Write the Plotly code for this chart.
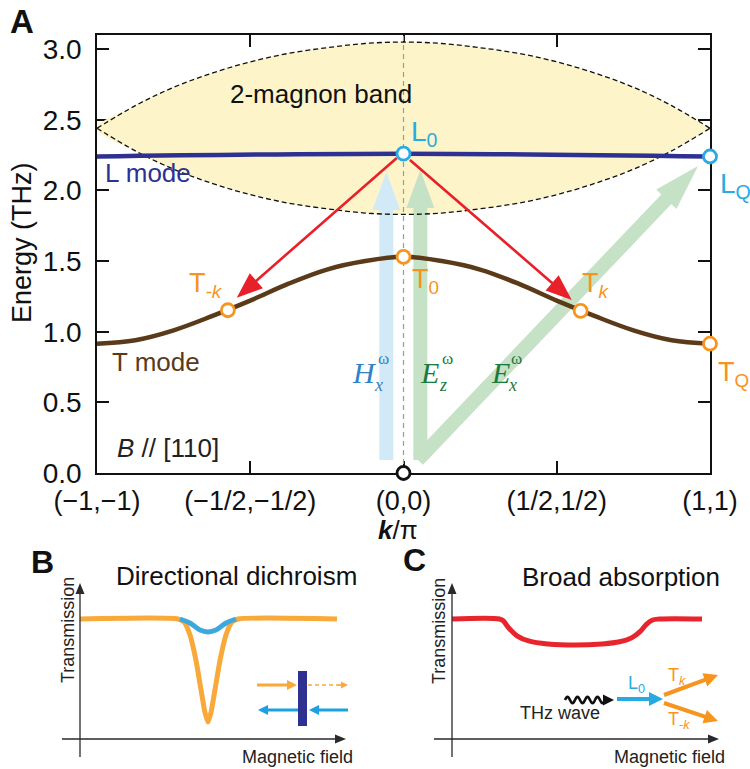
import math
import numpy as np
import plotly.graph_objects as go

W, H = 750, 769
FONT = "Liberation Sans, Arial, sans-serif"
SERIF = "Liberation Serif, Times New Roman, serif"

# ---------------- Panel A data ----------------
k_grid = [-1, -0.875, -0.75, -0.625, -0.5, -0.375, -0.25, -0.125, 0,
          0.125, 0.25, 0.375, 0.5, 0.625, 0.75, 0.875, 1]
band_upper = [2.44, 2.60, 2.73, 2.83, 2.91, 2.97, 3.01, 3.04, 3.05,
              3.04, 3.01, 2.97, 2.91, 2.83, 2.73, 2.60, 2.44]
band_lower = [2.44, 2.28, 2.15, 2.05, 1.97, 1.91, 1.87, 1.84, 1.83,
              1.84, 1.87, 1.91, 1.97, 2.05, 2.15, 2.28, 2.44]
t_mode_E = [0.915, 0.94, 1.01, 1.11, 1.22, 1.34, 1.44, 1.50, 1.53,
            1.50, 1.44, 1.34, 1.22, 1.11, 1.01, 0.94, 0.915]
l_mode_k = [-1.0, 0.0, 1.0]
l_mode_E = [2.24, 2.26, 2.24]

l_pts_k = [0.0, 1.0]
l_pts_E = [2.26, 2.24]
t_pts_k = [-0.573, 0.0, 0.578, 1.0]
t_pts_E = [1.152, 1.53, 1.147, 0.915]
origin_k = [0.0]
origin_E = [0.0]

red_tail_k = [-0.022, 0.021]
red_tail_E = [2.23, 2.215]
red_tip_k = [-0.544, 0.549]
red_tip_E = [1.24, 1.225]

thz_tail_k = [-0.056, 0.055, 0.047]
thz_tail_E = [0.092, 0.092, 0.092]
thz_tip_k = [-0.056, 0.055, 0.961]
thz_tip_E = [2.13, 2.145, 2.173]
thz_colors = ["#D2EAF8", "#C6E2C6", "#C6E2C6"]

xtick_vals = [-1, -0.5, 0, 0.5, 1]
xtick_text = ["(\u22121,\u22121)", "(\u22121/2,\u22121/2)", "(0,0)", "(1/2,1/2)", "(1,1)"]
ytick_vals = [0, 0.5, 1.0, 1.5, 2.0, 2.5, 3.0]
ytick_text = ["0.0", "0.5", "1.0", "1.5", "2.0", "2.5", "3.0"]

# ---------------- Panel B data ----------------
B_field_orange = [0, 0.381, 0.405, 0.428, 0.451, 0.471, 0.486, 0.498,
                  0.51, 0.525, 0.545, 0.568, 0.591, 0.615, 1.0]
B_trans_orange = [1, 1, 0.975, 0.868, 0.661, 0.413, 0.231, 0.149,
                  0.231, 0.413, 0.661, 0.868, 0.975, 1, 1]
B_field_blue = [0.389, 0.428, 0.467, 0.498, 0.529, 0.568, 0.607]
B_trans_blue = [1, 0.967, 0.909, 0.893, 0.909, 0.967, 1]

# ---------------- Panel C data ----------------
C_field = [0, 0.19, 0.205, 0.225, 0.26, 0.31, 0.384, 0.492, 0.6, 0.67,
           0.72, 0.752, 0.775, 0.8, 0.83, 1.0]
C_trans = [1, 1, 0.985, 0.93, 0.86, 0.815, 0.792, 0.783, 0.792, 0.81,
           0.845, 0.895, 0.95, 0.99, 1, 1]

# ---------------- geometry ----------------
A_L, A_R, A_T, A_B = 97, 710, 35, 473
xA = [-1, 1]
yA = [0, 3.1]
sxA = (A_R - A_L) / (xA[1] - xA[0])
syA = (A_B - A_T) / (yA[1] - yA[0])


def arrow_poly(x0, y0, x1, y1, sx, sy, shaft, hw, hl):
    X0, Y0, X1, Y1 = x0 * sx, y0 * sy, x1 * sx, y1 * sy
    dx, dy = X1 - X0, Y1 - Y0
    L = math.hypot(dx, dy)
    ux, uy = dx / L, dy / L
    nx, ny = -uy, ux
    bx, by = X1 - ux * hl, Y1 - uy * hl
    pts = [(X0 + nx * shaft / 2, Y0 + ny * shaft / 2),
           (bx + nx * shaft / 2, by + ny * shaft / 2),
           (bx + nx * hw / 2, by + ny * hw / 2),
           (X1, Y1),
           (bx - nx * hw / 2, by - ny * hw / 2),
           (bx - nx * shaft / 2, by - ny * shaft / 2),
           (X0 - nx * shaft / 2, Y0 - ny * shaft / 2)]
    pts.append(pts[0])
    return [p[0] / sx for p in pts], [p[1] / sy for p in pts]


def pp(px, py):
    return px / W, 1 - py / H


def paper_arrow_path(p0, p1, shaft, hw, hl):
    x0, y0 = pp(*p0)
    x1, y1 = pp(*p1)
    xs, ys = arrow_poly(x0, y0, x1, y1, W, H, shaft, hw, hl)
    return "M " + " L ".join(f"{a:.5f},{b:.5f}" for a, b in zip(xs, ys)) + " Z"


fig = go.Figure()

# band fill
fig.add_trace(go.Scatter(x=k_grid + k_grid[::-1], y=band_upper + band_lower[::-1],
                         mode="lines", fill="toself", fillcolor="#FDF5C9",
                         line=dict(width=0, shape="spline"), hoverinfo="skip"))
# thick THz arrows
for i in range(3):
    xs, ys = arrow_poly(thz_tail_k[i], thz_tail_E[i], thz_tip_k[i], thz_tip_E[i],
                        sxA, syA, 14, 28, 38 if i < 2 else 46)
    fig.add_trace(go.Scatter(x=xs, y=ys, mode="lines", fill="toself",
                             fillcolor=thz_colors[i], line=dict(width=0),
                             hoverinfo="skip"))
# band dashed borders
for arr in (band_upper, band_lower):
    fig.add_trace(go.Scatter(x=k_grid, y=arr, mode="lines",
                             line=dict(color="#111", width=1.3, dash="5px,3px", shape="spline"),
                             hoverinfo="skip"))
# vertical dashed line at k=0
fig.add_trace(go.Scatter(x=[0, 0], y=yA, mode="lines",
                         line=dict(color="#9a9a9a", width=1.2, dash="5px,4px"),
                         hoverinfo="skip"))
# L mode
fig.add_trace(go.Scatter(x=l_mode_k, y=l_mode_E, mode="lines",
                         line=dict(color="#2E3192", width=4.5, shape="spline"),
                         hoverinfo="skip"))
# T mode
fig.add_trace(go.Scatter(x=k_grid, y=t_mode_E, mode="lines",
                         line=dict(color="#5B3A1A", width=4.5, shape="spline"),
                         hoverinfo="skip"))
# red arrows
for i in range(2):
    xs, ys = arrow_poly(red_tail_k[i], red_tail_E[i], red_tip_k[i], red_tip_E[i],
                        sxA, syA, 2.6, 20, 26)
    fig.add_trace(go.Scatter(x=xs, y=ys, mode="lines", fill="toself",
                             fillcolor="#E8202A", line=dict(width=0, color="#E8202A"),
                             hoverinfo="skip"))
# circles
fig.add_trace(go.Scatter(x=l_pts_k, y=l_pts_E, mode="markers", cliponaxis=False,
                         marker=dict(symbol="circle", size=13, color="white",
                                     line=dict(color="#29ABE2", width=2.8)),
                         hoverinfo="skip"))
fig.add_trace(go.Scatter(x=t_pts_k, y=t_pts_E, mode="markers", cliponaxis=False,
                         marker=dict(symbol="circle", size=13, color="white",
                                     line=dict(color="#F7941D", width=2.8)),
                         hoverinfo="skip"))
fig.add_trace(go.Scatter(x=origin_k, y=origin_E, mode="markers", cliponaxis=False,
                         marker=dict(symbol="circle", size=13, color="white",
                                     line=dict(color="#111", width=2.8)),
                         hoverinfo="skip"))

# Panel B curves
fig.add_trace(go.Scatter(x=B_field_orange, y=B_trans_orange, xaxis="x2", yaxis="y2",
                         mode="lines", line=dict(color="#F9A83A", width=5, shape="spline", smoothing=0.6),
                         hoverinfo="skip"))
fig.add_trace(go.Scatter(x=B_field_blue, y=B_trans_blue, xaxis="x2", yaxis="y2",
                         mode="lines", line=dict(color="#3BA9DE", width=5, shape="spline"),
                         hoverinfo="skip"))
# Panel C curve
fig.add_trace(go.Scatter(x=C_field, y=C_trans, xaxis="x3", yaxis="y3",
                         mode="lines", line=dict(color="#E8252C", width=5, shape="spline", smoothing=1.0),
                         hoverinfo="skip"))

# ---------------- annotations ----------------
ann = []


def txt(x, y, text, size, color="#111", xanchor="center", yanchor="middle",
        family=FONT, ref="data", angle=0):
    if ref == "px":
        x, y = pp(x, y)
        xr, yr = "paper", "paper"
    else:
        xr, yr = "x", "y"
    ann.append(dict(x=x, y=y, xref=xr, yref=yr, text=text, showarrow=False,
                    xanchor=xanchor, yanchor=yanchor, textangle=angle,
                    font=dict(size=size, color=color, family=family)))


txt(-0.27, 2.68, "2-magnon band", 26)
txt(-0.98, 2.12, "L mode", 26, "#2E3192", xanchor="left")
txt(-0.958, 0.785, "T mode", 26, "#5B3A1A", xanchor="left")
txt(-0.94, 0.18, "<i>B</i> // [110]", 26, "#222", xanchor="left")
txt(0.018, 2.40, "L<sub>0</sub>", 28, "#29ABE2", xanchor="left")
txt(718, 185, "L<sub>Q</sub>", 28, "#29ABE2", xanchor="left", ref="px")
txt(-0.706, 1.33, "T<sub><i>-k</i></sub>", 27, "#F7941D", xanchor="left")
txt(0.021, 1.36, "T<sub>0</sub>", 27, "#F7941D", xanchor="left")
txt(0.576, 1.33, "T<sub><i>k</i></sub>", 27, "#F7941D", xanchor="left")
txt(716, 374, "T<sub>Q</sub>", 27, "#F7941D", xanchor="left", ref="px")
# field labels
HB, EG = "#2F83C5", "#1B7A3E"
txt(-0.126, 0.708, "<i>H</i>", 30, HB, family=SERIF)
txt(-0.064, 0.81, "\u03c9", 17, HB, family=SERIF)
txt(-0.08, 0.62, "<i>x</i>", 18, HB, family=SERIF)
txt(0.086, 0.708, "<i>E</i>", 30, EG, family=SERIF)
txt(0.142, 0.81, "\u03c9", 17, EG, family=SERIF)
txt(0.128, 0.62, "<i>z</i>", 18, EG, family=SERIF)
txt(0.315, 0.708, "<i>E</i>", 30, EG, family=SERIF)
txt(0.368, 0.81, "\u03c9", 17, EG, family=SERIF)
txt(0.356, 0.62, "<i>x</i>", 18, EG, family=SERIF)

# axis titles / panel letters (pixel placed)
txt(22, 243, "Energy (THz)", 27, "#111", ref="px", angle=-90)
txt(398, 530, "<b><i>k</i></b>/\u03c0", 26, "#111", ref="px")
txt(22, 22, "<b>A</b>", 33, "#111", ref="px")
txt(42, 562, "<b>B</b>", 32, "#111", ref="px")
txt(414, 560, "<b>C</b>", 32, "#111", ref="px")
txt(236, 576, "Directional dichroism", 26, "#111", ref="px")
txt(621, 577, "Broad absorption", 26, "#111", ref="px")
txt(68, 630, "Transmission", 18, "#222", ref="px", angle=-90)
txt(439, 631, "Transmission", 18, "#222", ref="px", angle=-90)
txt(297, 757, "Magnetic field", 18, "#222", ref="px")
txt(669, 757, "Magnetic field", 18, "#222", ref="px")
txt(560, 713, "THz wave", 18, "#222", ref="px")
txt(636, 684, "L<sub>0</sub>", 18, "#29ABE2", ref="px")
txt(677, 676, "T<sub><i>k</i></sub>", 18, "#F7941D", ref="px")
txt(679, 720, "T<sub><i>-k</i></sub>", 18, "#F7941D", ref="px")

# ---------------- shapes (schematic insets) ----------------
shapes = []


def arrow_shape(p0, p1, shaft, hw, hl, color):
    shapes.append(dict(type="path", xref="paper", yref="paper",
                       path=paper_arrow_path(p0, p1, shaft, hw, hl),
                       fillcolor=color, line=dict(width=0), layer="above"))


AX = "#2a2a2a"
# B axes
arrow_shape((80, 757), (80, 583), 1.3, 9, 11, AX)
arrow_shape((62, 739), (346, 739), 1.3, 9, 11, AX)
# C axes
arrow_shape((452, 757), (452, 583), 1.3, 9, 11, AX)
arrow_shape((434, 739), (719, 739), 1.3, 9, 11, AX)
# B inset
arrow_shape((257, 685), (297, 685), 3, 10, 10, "#F9A83A")
x0, y0 = pp(308, 685)
x1, y1 = pp(341, 685)
shapes.append(dict(type="line", xref="paper", yref="paper", x0=x0, y0=y0, x1=x1, y1=y1,
                   line=dict(color="#F9A83A", width=1.5, dash="4px,3px")))
arrow_shape((338, 685), (348, 685), 1.5, 7, 7, "#F9A83A")
arrow_shape((348, 710), (309, 710), 3, 10, 10, "#1BA1E2")
arrow_shape((298, 710), (258, 710), 3, 10, 10, "#1BA1E2")
bx0, by0 = pp(298, 671)
bx1, by1 = pp(307, 726)
shapes.append(dict(type="rect", xref="paper", yref="paper", x0=bx0, y0=by1, x1=bx1, y1=by0,
                   fillcolor="#2E3192", line=dict(width=0)))
# C inset: squiggle
sq = []
n = 60
for i in range(n + 1):
    X = 565 + 40 * i / n
    Y = 700 - 3.2 * math.sin(2 * math.pi * 4 * i / n)
    sq.append(pp(X, Y))
shapes.append(dict(type="path", xref="paper", yref="paper",
                   path="M " + " L ".join(f"{a:.5f},{b:.5f}" for a, b in sq),
                   line=dict(color="#111", width=2.6)))
arrow_shape((603, 700), (614, 700), 1, 11, 11, "#111")
arrow_shape((617, 699), (663, 699), 4, 14, 14, "#27AAE1")
arrow_shape((664, 695), (718, 675), 4, 14, 14, "#F7941D")
arrow_shape((664, 703), (718, 721), 4, 14, 14, "#F7941D")

axis_common = dict(showgrid=False, zeroline=False, ticks="inside", ticklen=12,
                   tickwidth=1.5, tickcolor="#111", showline=True, linecolor="#111",
                   linewidth=1.5, mirror="ticks", layer="below traces", automargin=False)

fig.update_layout(
    width=W, height=H, autosize=False,
    margin=dict(l=0, r=0, t=0, b=0, pad=0, autoexpand=False),
    paper_bgcolor="white", plot_bgcolor="rgba(0,0,0,0)",
    showlegend=False,
    xaxis=dict(domain=[A_L / W, A_R / W], range=xA, tickvals=xtick_vals,
               ticktext=xtick_text, anchor="y", ticklabelstandoff=3,
               tickfont=dict(size=27, family=FONT, color="#111"), **axis_common),
    yaxis=dict(domain=[1 - A_B / H, 1 - A_T / H], range=yA, tickvals=ytick_vals,
               ticktext=ytick_text, anchor="x", ticklabelstandoff=8,
               tickfont=dict(size=28, family=FONT, color="#111"), **axis_common),
    xaxis2=dict(domain=[0, 0.5], range=[(0 - 80) / 257, (375 - 80) / 257],
                visible=False, anchor="y2", automargin=False),
    yaxis2=dict(domain=[0, 1 - 520 / H], range=[(740 - 769) / 121, (740 - 520) / 121],
                visible=False, anchor="x2", automargin=False),
    xaxis3=dict(domain=[0.5, 1], range=[(375 - 452) / 250, (750 - 452) / 250],
                visible=False, anchor="y3", automargin=False),
    yaxis3=dict(domain=[0, 1 - 520 / H], range=[(739 - 769) / 120, (739 - 520) / 120],
                visible=False, anchor="x3", automargin=False),
    annotations=ann,
    shapes=shapes,
)

fig.write_html("out.html", config={"displayModeBar": False},
               post_script="document.body.style.margin='0';")
